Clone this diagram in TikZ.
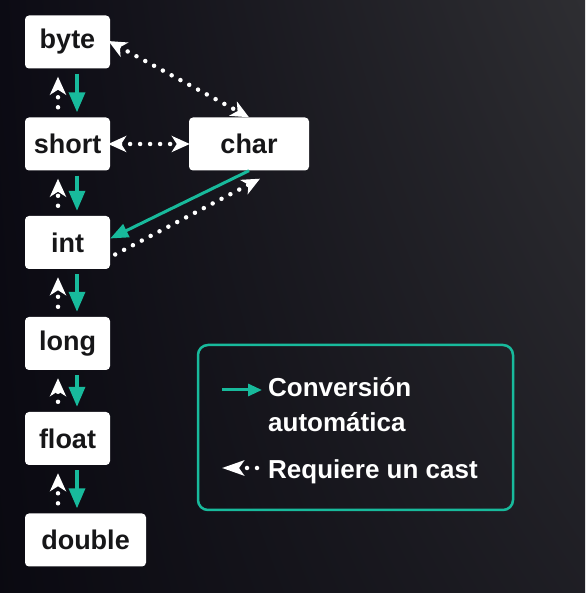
\documentclass[tikz,border=0pt]{standalone}
\usepackage{fontspec}
\setmainfont{Liberation Sans}
\usetikzlibrary{arrows.meta,shadings}
\definecolor{bgleft}{RGB}{12,11,20}
\definecolor{bgright}{RGB}{46,46,50}
\definecolor{boxtext}{RGB}{22,22,24}
\definecolor{autocolor}{RGB}{24,186,156}

\begin{document}
\begin{tikzpicture}[x=1pt, y=1pt,
    typebox/.style={fill=white, rounded corners=4pt, minimum width=85pt, minimum height=53pt,
        inner sep=0pt, text=boxtext, font=\fontsize{27}{30}\selectfont\bfseries},
    legendtext/.style={inner sep=0pt, text=white, font=\fontsize{26}{30}\selectfont\bfseries},
    autoarrow/.style={draw=autocolor, line width=3.5pt, -{Triangle[length=20pt,width=16pt]}},
    castline/.style={draw=white, line width=4.5pt, line cap=round, dash pattern=on 0pt off 10pt},
    castarrow/.style={castline, -{Stealth[length=18pt,width=16pt,inset=5pt]}},
    castboth/.style={castline, {Stealth[length=18pt,width=16pt,inset=5pt]}-{Stealth[length=18pt,width=16pt,inset=5pt]}}]
% background
\shade[upper left=bgleft, lower left=bgleft!85!black, upper right=bgright, lower right=bgright!55!bgleft]
    (0,0) rectangle (585,593);
% types
\node[typebox] (byte) at (67.5,551) {byte};
\node[typebox] (short) at (67.5,449) {short};
\node[typebox, minimum width=120pt] (char) at (249,449) {char};
\node[typebox] (int) at (67.5,350.5) {int};
\node[typebox] (long) at (67.5,249.5) {long};
\node[typebox] (float) at (67.5,154.5) {float};
\node[typebox, minimum width=121pt] (double) at (85.5,53) {double};
% widening chain
\draw[autoarrow, shorten <=5pt, shorten >=5pt] ([xshift=9.5pt]byte.south) -- ([xshift=9.5pt]short.north);
\draw[castarrow, shorten <=10pt, shorten >=8pt] ([xshift=-9.5pt]short.north) -- ([xshift=-9.5pt]byte.south);
\draw[autoarrow, shorten <=5pt, shorten >=5pt] ([xshift=9.5pt]short.south) -- ([xshift=9.5pt]int.north);
\draw[castarrow, shorten <=10pt, shorten >=8pt] ([xshift=-9.5pt]int.north) -- ([xshift=-9.5pt]short.south);
\draw[autoarrow, shorten <=5pt, shorten >=5pt] ([xshift=9.5pt]int.south) -- ([xshift=9.5pt]long.north);
\draw[castarrow, shorten <=10pt, shorten >=8pt] ([xshift=-9.5pt]long.north) -- ([xshift=-9.5pt]int.south);
\draw[autoarrow, shorten <=5pt, shorten >=5pt] ([xshift=9.5pt]long.south) -- ([xshift=9.5pt]float.north);
\draw[castarrow, shorten <=10pt, shorten >=8pt] ([xshift=-9.5pt]float.north) -- ([xshift=-9.5pt]long.south);
\draw[autoarrow, shorten <=5pt, shorten >=5pt] ([xshift=9.5pt]float.south) -- ([xshift=-8.5pt]double.north);
\draw[castarrow, shorten <=10pt, shorten >=8pt] ([xshift=-27.5pt]double.north) -- ([xshift=-9.5pt]float.south);
% char links
\draw[castboth, shorten <=-2pt] (byte.east) -- (char.north);
\draw[castboth, shorten <=-2pt, shorten >=-1pt] (short.east) -- (char.west);
\draw[autoarrow, line width=3pt, -{Triangle[length=18pt,width=14pt]}] (char.south) -- ([yshift=4pt]int.east);
\draw[castarrow] ([xshift=5pt,yshift=-12pt]int.east) -- ([xshift=11pt,yshift=-8pt]char.south);
% legend
\draw[draw=autocolor, line width=2.5pt, rounded corners=10pt] (198,248) rectangle (513,83);
\node[legendtext, anchor=base west] (convtext) at (268,196) {Conversión};
\node[legendtext, anchor=base west] (autotext) at (268,161) {automática};
\node[legendtext, anchor=base west] (casttext) at (268,114) {Requiere un cast};
\coordinate (autotail) at (222,203);
\coordinate (casthead) at (222,125);
\draw[autoarrow, line width=3pt, -{Triangle[length=14pt,width=12pt]}, shorten >=6pt] (autotail) -- (autotail -| convtext.west);
\draw[castline, -{Stealth[length=22pt,width=15pt,inset=5pt]}, shorten <=11pt] (casthead -| casttext.west) -- (casthead);
\end{tikzpicture}
\end{document}
